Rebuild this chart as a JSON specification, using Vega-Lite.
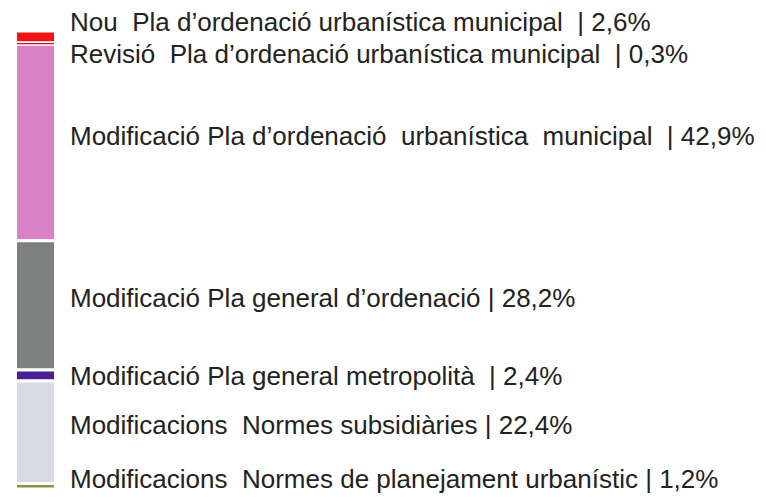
{
  "$schema": "https://vega.github.io/schema/vega-lite/v6.json",
  "width": 766,
  "height": 499,
  "autosize": {"type": "fit", "contains": "padding"},
  "padding": 0,
  "background": "white",
  "config": {"view": {"stroke": null}},
  "data": {
    "values": [
      {"order": 1, "name": "Nou", "value": 2.6, "label": "Nou\u00a0 Pla d’ordenació urbanística municipal\u00a0 | 2,6%"},
      {"order": 2, "name": "Revisió", "value": 0.3, "label": "Revisió\u00a0 Pla d’ordenació urbanística municipal\u00a0 | 0,3%"},
      {"order": 3, "name": "Modificació POUM", "value": 42.9, "label": "Modificació Pla d’ordenació\u00a0 urbanística\u00a0 municipal\u00a0 | 42,9%"},
      {"order": 4, "name": "Modificació PGO", "value": 28.2, "label": "Modificació Pla general d’ordenació | 28,2%"},
      {"order": 5, "name": "Modificació PGM", "value": 2.4, "label": "Modificació Pla general metropolità\u00a0 | 2,4%"},
      {"order": 6, "name": "Modificacions NS", "value": 22.4, "label": "Modificacions\u00a0 Normes subsidiàries | 22,4%"},
      {"order": 7, "name": "Modificacions NPU", "value": 1.2, "label": "Modificacions\u00a0 Normes de planejament urbanístic | 1,2%"}
    ]
  },
  "transform": [
    {"stack": "value", "groupby": [], "sort": [{"field": "order"}], "as": ["y0", "y1"]},
    {"calculate": "(datum.y0 + datum.y1) / 2", "as": "ymid"}
  ],
  "encoding": {
    "y": {"field": "y0", "type": "quantitative", "axis": null,
      "scale": {"domain": [-6.769, 102.183], "reverse": true, "nice": false, "zero": false}}
  },
  "layer": [
    {
      "mark": {"type": "bar", "stroke": "white", "strokeWidth": 3},
      "encoding": {
        "x": {"value": 15.5},
        "x2": {"value": 55.5},
        "y2": {"field": "y1"},
        "color": {"field": "name", "type": "nominal", "legend": null,
          "scale": {
            "domain": ["Nou", "Revisió", "Modificació POUM", "Modificació PGO", "Modificació PGM", "Modificacions NS", "Modificacions NPU"],
            "range": ["#f01414", "#b8142a", "#da80c6", "#7e8080", "#4a1f96", "#d8dbe3", "#8e903e"]
          }}
      }
    },
    {
      "transform": [{"filter": "datum.name === 'Revisió'"}],
      "mark": {"type": "bar", "color": "#b8142a"},
      "encoding": {"x": {"value": 17}, "x2": {"value": 54}, "y2": {"field": "y1"}}
    },
    {
      "transform": [{"filter": "datum.name === 'Nou'"}],
      "mark": {"type": "text", "align": "left", "baseline": "middle", "dy": -14, "font": "Liberation Sans", "fontSize": 26, "color": "#222222"},
      "encoding": {"x": {"value": 70}, "y": {"field": "ymid", "type": "quantitative"}, "text": {"field": "label"}}
    },
    {
      "transform": [{"filter": "datum.name === 'Revisió'"}],
      "mark": {"type": "text", "align": "left", "baseline": "middle", "dy": 11, "font": "Liberation Sans", "fontSize": 26, "color": "#222222"},
      "encoding": {"x": {"value": 70}, "y": {"field": "ymid", "type": "quantitative"}, "text": {"field": "label"}}
    },
    {
      "transform": [{"filter": "datum.name === 'Modificació PGM'"}],
      "mark": {"type": "text", "align": "left", "baseline": "middle", "dy": 2, "font": "Liberation Sans", "fontSize": 26, "color": "#222222"},
      "encoding": {"x": {"value": 70}, "y": {"field": "ymid", "type": "quantitative"}, "text": {"field": "label"}}
    },
    {
      "transform": [{"filter": "indexof(['Nou', 'Revisió', 'Modificació PGM'], datum.name) < 0"}],
      "mark": {"type": "text", "align": "left", "baseline": "middle", "dy": -6, "font": "Liberation Sans", "fontSize": 26, "color": "#222222"},
      "encoding": {"x": {"value": 70}, "y": {"field": "ymid", "type": "quantitative"}, "text": {"field": "label"}}
    }
  ]
}
